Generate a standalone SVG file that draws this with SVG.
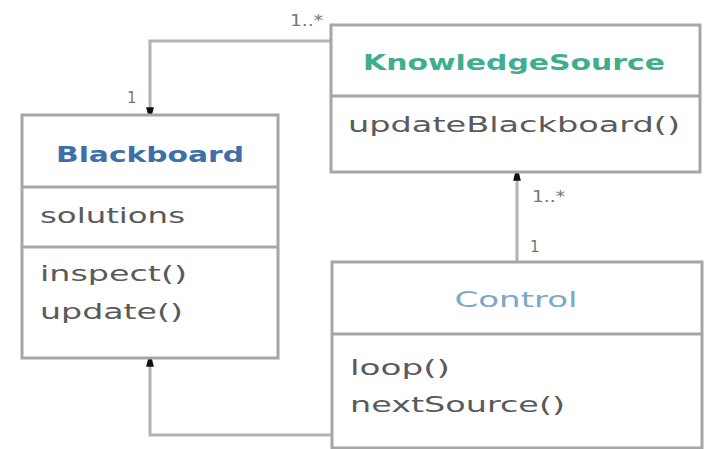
<svg xmlns="http://www.w3.org/2000/svg" width="706" height="449" viewBox="0 0 706 449">
<defs>
<style>
.box{fill:#ffffff;stroke:#a6a6a6;stroke-width:3}
.div{stroke:#a6a6a6;stroke-width:3}
.conn{fill:none;stroke:#b3b3b3;stroke-width:3}
.t{font-family:"DejaVu Sans","Liberation Sans",sans-serif;font-size:21px;fill:#5a5a5a}
.h{font-family:"DejaVu Sans","Liberation Sans",sans-serif;font-size:21px;font-weight:bold;text-anchor:middle}
.hn{font-weight:normal}
.m{font-family:"DejaVu Sans","Liberation Sans",sans-serif;font-size:15px;fill:#777777}
</style>
<marker id="arr" viewBox="0 0 6 6" refX="6" refY="3" markerWidth="2.6" markerHeight="2.6" orient="auto">
<path d="M0,0 L6,1.5 L6,4.5 L0,6 Z" fill="#111111"/>
</marker>
</defs>
<rect width="706" height="449" fill="#ffffff"/>
<g id="connectors">
<path class="conn" d="M331,41 L150,41 L150,115" marker-end="url(#arr)"/>
<path class="conn" d="M517,262 L517,173" marker-end="url(#arr)"/>
<path class="conn" d="M332,435 L150,435 L150,359" marker-end="url(#arr)"/>
<text class="m" x="290" y="26" textLength="33" lengthAdjust="spacingAndGlyphs">1..*</text>
<text class="m" x="127" y="103">1</text>
<text class="m" x="532" y="202" textLength="33" lengthAdjust="spacingAndGlyphs">1..*</text>
<text class="m" x="530" y="252">1</text>
</g>
<g id="blackboard">
<rect class="box" x="22" y="115" width="256" height="243"/>
<line class="div" x1="22" y1="187" x2="278" y2="187"/>
<line class="div" x1="22" y1="247" x2="278" y2="247"/>
<text class="h" x="150" y="162" fill="#3d6fa8" textLength="188" lengthAdjust="spacingAndGlyphs">Blackboard</text>
<text class="t" x="40" y="223" textLength="145" lengthAdjust="spacingAndGlyphs">solutions</text>
<text class="t" x="40" y="281" textLength="147" lengthAdjust="spacingAndGlyphs">inspect()</text>
<text class="t" x="40" y="319" textLength="143" lengthAdjust="spacingAndGlyphs">update()</text>
</g>
<g id="knowledgesource">
<rect class="box" x="331" y="25" width="369" height="147"/>
<line class="div" x1="331" y1="96" x2="700" y2="96"/>
<text class="h" x="514" y="70" fill="#3fae8f" textLength="302" lengthAdjust="spacingAndGlyphs">KnowledgeSource</text>
<text class="t" x="348" y="132" textLength="332" lengthAdjust="spacingAndGlyphs">updateBlackboard()</text>
</g>
<g id="control">
<rect class="box" x="332" y="262" width="370" height="186"/>
<line class="div" x1="332" y1="334" x2="702" y2="334"/>
<text class="h hn" x="516" y="307" fill="#7ba7c9" textLength="123" lengthAdjust="spacingAndGlyphs">Control</text>
<text class="t" x="350" y="375" textLength="100" lengthAdjust="spacingAndGlyphs">loop()</text>
<text class="t" x="350" y="412" textLength="215" lengthAdjust="spacingAndGlyphs">nextSource()</text>
</g>
</svg>
